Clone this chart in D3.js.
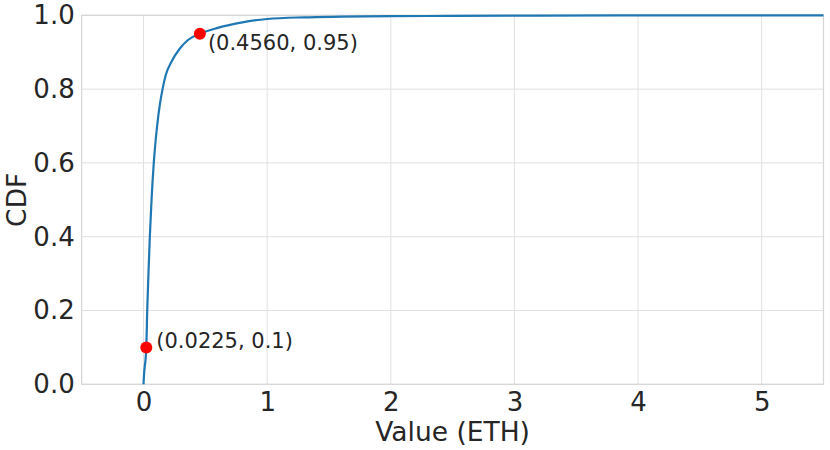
<!DOCTYPE html>
<html>
<head>
<meta charset="utf-8">
<script src="https://cdn.jsdelivr.net/npm/d3@7"></script>
<style>
  body { margin: 0; background: #fff; }
  svg { display: block; font-family: "DejaVu Sans", sans-serif; }
</style>
</head>
<body>
<div class="svg-container"></div>
<script>
// CDF curve
let values = [0, 0.003, 0.0225, 0.03, 0.04, 0.051, 0.065, 0.083, 0.11, 0.132, 0.154, 0.18, 0.226, 0.294, 0.36, 0.456, 0.6, 0.8, 1.0, 1.3, 1.6, 2.0, 2.5, 3.2, 4.0, 5.5];
let cdf = [0, 0.02, 0.1, 0.2, 0.3, 0.4, 0.5, 0.6, 0.7, 0.758, 0.8, 0.838, 0.874, 0.91, 0.933, 0.95, 0.966, 0.981, 0.99, 0.9945, 0.9962, 0.9975, 0.9985, 0.9993, 0.9997, 1.0];

// marked points
let markX = [0.0225, 0.456];
let markY = [0.1, 0.95];
let markLabels = ["(0.0225, 0.1)", "(0.4560, 0.95)"];

let xTicks = [0, 1, 2, 3, 4, 5];
let yTicks = [0, 0.2, 0.4, 0.6, 0.8, 1.0];

let width = 830;
let height = 450;
let margin = { top: 15.3, right: 6.5, bottom: 65.7, left: 81.7 };

let textColor = "#262626";
let gridColor = "#e0e0e0";

let svg = d3.select(".svg-container")
    .append("svg")
    .attr("width", width)
    .attr("height", height);

let x = d3.scaleLinear().domain([-0.5, 5.5]).range([margin.left, width - margin.right]);
let y = d3.scaleLinear().domain([0, 1]).range([height - margin.bottom, margin.top]);

// grid
svg.append("g")
    .selectAll("line")
    .data(xTicks)
    .enter()
    .append("line")
    .attr("x1", d => x(d)).attr("x2", d => x(d))
    .attr("y1", y(0)).attr("y2", y(1))
    .attr("stroke", gridColor)
    .attr("stroke-width", 1);

svg.append("g")
    .selectAll("line")
    .data(yTicks)
    .enter()
    .append("line")
    .attr("x1", x.range()[0]).attr("x2", x.range()[1])
    .attr("y1", d => y(d)).attr("y2", d => y(d))
    .attr("stroke", gridColor)
    .attr("stroke-width", 1);

// frame
svg.append("rect")
    .attr("x", x.range()[0])
    .attr("y", y(1))
    .attr("width", x.range()[1] - x.range()[0])
    .attr("height", y(0) - y(1))
    .attr("fill", "none")
    .attr("stroke", "#d6d6d6")
    .attr("stroke-width", 1.2);

// axes (labels only, no tick marks)
let xAxis = svg.append("g")
    .attr("transform", "translate(0," + y(0) + ")")
    .call(d3.axisBottom(x).tickValues(xTicks).tickSize(0).tickPadding(8).tickFormat(d3.format("d")));
xAxis.select(".domain").remove();
xAxis.selectAll("text")
    .attr("fill", textColor)
    .style("font-size", "26px")
    .attr("font-family", "DejaVu Sans");

let yAxis = svg.append("g")
    .attr("transform", "translate(" + x.range()[0] + ",0)")
    .call(d3.axisLeft(y).tickValues(yTicks).tickSize(0).tickPadding(7).tickFormat(d3.format(".1f")));
yAxis.select(".domain").remove();
yAxis.selectAll("text")
    .attr("fill", textColor)
    .style("font-size", "26px")
    .attr("font-family", "DejaVu Sans");

// axis titles
svg.append("text")
    .attr("x", (x.range()[0] + x.range()[1]) / 2)
    .attr("y", 441)
    .attr("text-anchor", "middle")
    .attr("fill", textColor)
    .style("font-size", "26.5px")
    .text("Value (ETH)");

svg.append("text")
    .attr("transform", "translate(25.5," + (y(0) + y(1)) / 2 + ") rotate(-90)")
    .attr("text-anchor", "middle")
    .attr("fill", textColor)
    .style("font-size", "26.5px")
    .text("CDF");

// curve
let line = d3.line()
    .x(d => x(d[0]))
    .y(d => y(d[1]))
    .curve(d3.curveMonotoneX);

svg.append("path")
    .datum(values.map((v, i) => [v, cdf[i]]))
    .attr("d", line)
    .attr("fill", "none")
    .attr("stroke", "#1f77b4")
    .attr("stroke-width", 2.2);

// markers
svg.append("g")
    .selectAll("circle")
    .data(markX)
    .enter()
    .append("circle")
    .attr("cx", d => x(d))
    .attr("cy", (d, i) => y(markY[i]))
    .attr("r", 6)
    .attr("fill", "red");

// marker labels: first one sits right of the point, second one right and below
let labelDx = [10, 8];
let labelDy = [1, 16];
svg.append("g")
    .selectAll("text")
    .data(markLabels)
    .enter()
    .append("text")
    .attr("x", (d, i) => x(markX[i]) + labelDx[i])
    .attr("y", (d, i) => y(markY[i]) + labelDy[i])
    .attr("fill", textColor)
    .style("font-size", "21px")
    .text(d => d);
</script>
</body>
</html>
